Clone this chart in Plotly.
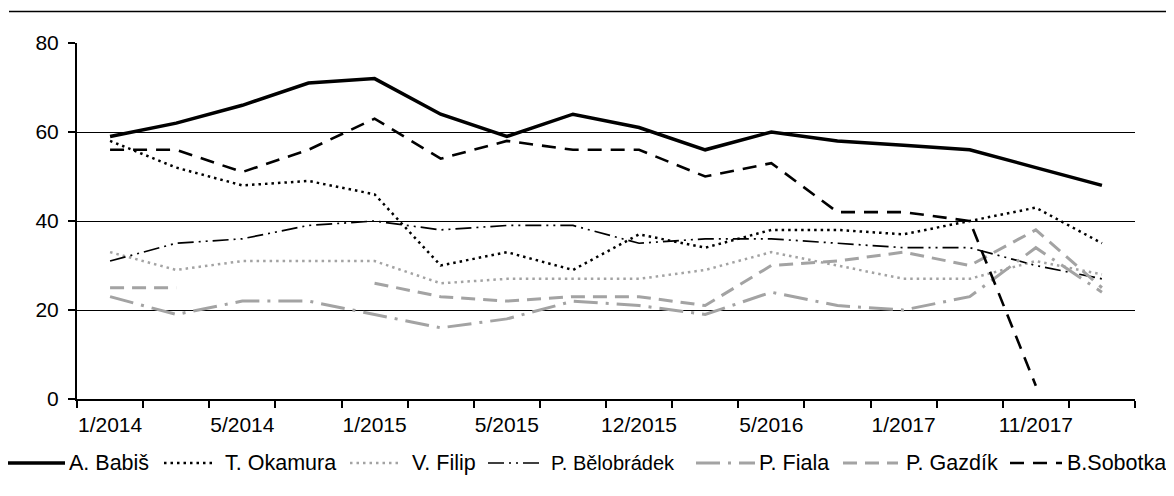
import plotly.graph_objects as go

# ---- data ----
tick_labels = ["1/2014", "5/2014", "1/2015", "5/2015", "12/2015", "5/2016", "1/2017", "11/2017"]
n_periods = 16

babis      = [59, 62, 66, 71, 72, 64, 59, 64, 61, 56, 60, 58, 57, 56, 52, 48]
okamura    = [58, 52, 48, 49, 46, 30, 33, 29, 37, 34, 38, 38, 37, 40, 43, 35]
filip      = [33, 29, 31, 31, 31, 26, 27, 27, 27, 29, 33, 30, 27, 27, 31, 28]
belobradek = [31, 35, 36, 39, 40, 38, 39, 39, 35, 36, 36, 35, 34, 34, 30, 27]
fiala      = [23, 19, 22, 22, 19, 16, 18, 22, 21, 19, 24, 21, 20, 23, 34, 24]
gazdik     = [25, 25, None, None, 26, 23, 22, 23, 23, 21, 30, 31, 33, 30, 38, 25]
sobotka    = [56, 56, 51, 56, 63, 54, 58, 56, 56, 50, 53, 42, 42, 40, 3, None]

x = list(range(n_periods))
GREY = "#a3a3a3"
FONT = "Liberation Sans, Arial, sans-serif"

series = [
    ("A. Babiš", babis, dict(color="black", width=3.5, dash="solid")),
    ("T. Okamura", okamura, dict(color="black", width=2.5, dash="2.5px,4px")),
    ("V. Filip", filip, dict(color=GREY, width=2.5, dash="2.5px,4px")),
    ("P. Bělobrádek", belobradek, dict(color="black", width=1.7, dash="16px,5px,2px,5px,2px,5px")),
    ("P. Fiala", fiala, dict(color=GREY, width=3, dash="24px,8px,3px,8px")),
    ("P. Gazdík", gazdik, dict(color=GREY, width=3, dash="14px,8px")),
    ("B.Sobotka", sobotka, dict(color="black", width=2.6, dash="14px,9px")),
]

# legend layout (screen pixels: sample start, sample end, text start), font size
legend_slots = [(8, 65, 68, 21.5), (164, 216, 224, 21.5), (350, 401, 411, 21.5),
                (488, 543, 550, 20), (696, 755, 758, 21.5), (843, 898, 905, 21.5),
                (1010, 1062, 1066, 21.5)]
LEG_Y = 463

# page has an 8px body margin; figure is sized to fit the 1174x496 window
W, H = 1158, 480
L, R, T, B = 69, 31, 35, 89
PW, PH = W - L - R, H - T - B


def px_x(sx):
    return (sx - 8 - L) / PW


def px_y(sy):
    return (H - B - (sy - 8)) / PH


fig = go.Figure()
for name, vals, line in series:
    fig.add_trace(go.Scatter(x=x, y=vals, mode="lines", name=name, line=line,
                             connectgaps=False, showlegend=False))

shapes = [dict(type="line", xref="paper", yref="paper",
               x0=px_x(9), x1=px_x(1180), y0=px_y(11.5), y1=px_y(11.5),
               line=dict(color="black", width=1.5))]
annotations = []
for (name, vals, line), (s0, s1, t0, fs) in zip(series, legend_slots):
    shapes.append(dict(type="line", xref="paper", yref="paper",
                       x0=px_x(s0), x1=px_x(s1), y0=px_y(LEG_Y), y1=px_y(LEG_Y),
                       line=dict(color=line["color"], width=line["width"], dash=line["dash"])))
    annotations.append(dict(xref="paper", yref="paper", x=px_x(t0), y=px_y(LEG_Y),
                            xanchor="left", yanchor="middle", showarrow=False,
                            text=name, font=dict(size=fs, color="black", family=FONT),
                            borderpad=0))

fig.update_layout(
    width=W, height=H,
    margin=dict(l=L, r=R, t=T, b=B, autoexpand=False),
    paper_bgcolor="white", plot_bgcolor="white",
    font=dict(family=FONT, size=21, color="black"),
    showlegend=False,
    xaxis=dict(range=[-0.5, n_periods - 0.5], showgrid=False, zeroline=False,
               tickmode="array", tickvals=list(range(0, n_periods, 2)),
               ticktext=tick_labels, ticks="", ticklabelstandoff=6,
               showline=True, linecolor="black", linewidth=2,
               minor=dict(tickvals=[i - 0.5 for i in range(n_periods + 1)],
                          ticks="outside", ticklen=7, tickwidth=2,
                          tickcolor="black", showgrid=False)),
    yaxis=dict(range=[0, 80], tickvals=[0, 20, 40, 60, 80], showgrid=True,
               gridcolor="black", gridwidth=1.3, zeroline=False,
               showline=True, linecolor="black", linewidth=2,
               ticks="outside", ticklen=7, tickwidth=2, tickcolor="black",
               ticklabelstandoff=5),
    shapes=shapes,
    annotations=annotations,
)

fig.write_html("out.html")
